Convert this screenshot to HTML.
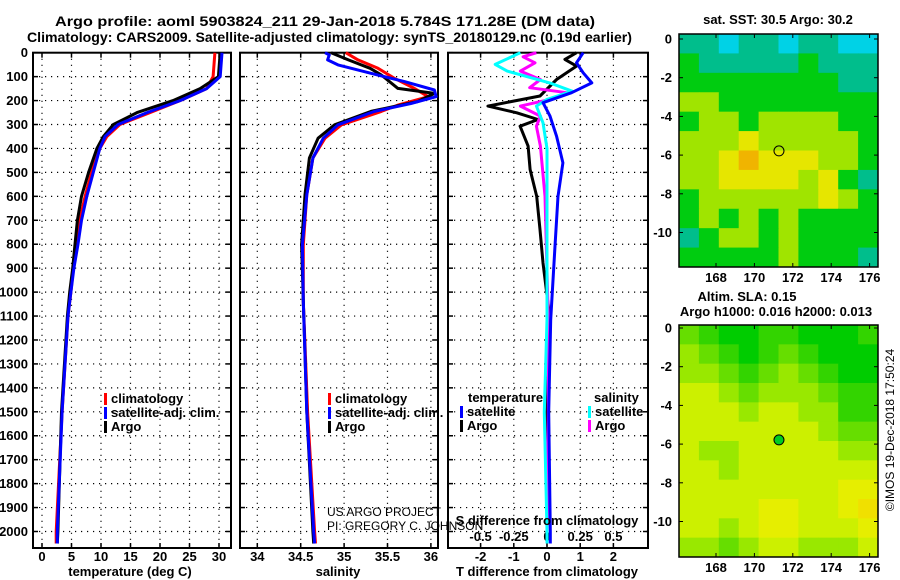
<!DOCTYPE html>
<html><head><meta charset="utf-8"><style>
body{margin:0;background:#fff;}
svg{display:block;font-family:"Liberation Sans",Arial,sans-serif;font-weight:bold;}
</style></head><body>
<svg id="fig" width="900" height="580" viewBox="0 0 900 580" xmlns="http://www.w3.org/2000/svg">
<rect width="900" height="580" fill="#fff"/>
<text x="55" y="26" font-size="14" textLength="540" lengthAdjust="spacingAndGlyphs">Argo profile: aoml 5903824_211 29-Jan-2018 5.784S 171.28E (DM data)</text>
<text x="27" y="42" font-size="14" textLength="605" lengthAdjust="spacingAndGlyphs">Climatology: CARS2009. Satellite-adjusted climatology: synTS_20180129.nc (0.19d earlier)</text>
<g id="g"></g>
</svg>
<script>
// ---------- data ----------
const depthTicks = [0,100,200,300,400,500,600,700,800,900,1000,1100,1200,1300,1400,1500,1600,1700,1800,1900,2000];
const tDepth = [0,100,150,200,250,300,350,400,500,600,700,800,900,1000,1100,1500,2000,2050];
const tempArgo = [30.2,29.9,26.8,22.2,16.1,12.1,10.4,9.3,7.9,6.7,6.0,5.6,5.2,4.7,4.3,3.3,2.7,2.6];
const tempClim = [29.3,29.0,27.9,23.4,18.3,13.2,11.0,9.8,8.4,7.3,6.4,5.9,5.3,4.9,4.4,3.4,2.4,2.4];
const tempSat  = [30.5,30.2,27.9,23.4,17.8,12.9,10.7,9.8,8.7,7.6,6.7,6.1,5.4,4.9,4.4,3.4,2.6,2.6];
const sDepthA = [0,30,65,93,149,170,204,245,301,357,440,593,802,1038,1500,2000,2050];
const salArgo = [34.85,35.05,35.3,35.43,35.62,36.04,35.85,35.31,34.89,34.70,34.60,34.55,34.51,34.53,34.57,34.64,34.65];
const sDepthC = [0,30,65,107,149,184,219,245,301,357,440,593,802,1038,1500,2000,2050];
const salClim = [35.02,35.16,35.39,35.58,35.81,35.97,35.62,35.43,34.97,34.78,34.64,34.57,34.53,34.53,34.58,34.66,34.67];
const sDepthS = [0,9,30,51,86,121,156,184,212,245,301,357,440,593,802,1038,1500,2000,2050];
const salSat  = [34.78,34.83,34.81,34.93,35.31,35.70,36.04,36.06,35.77,35.35,34.93,34.76,34.64,34.57,34.52,34.53,34.57,34.65,34.66];
const dDepthT = [0,28,56,112,181,223,251,279,307,390,488,600,739,878,1115,1500,2000,2050];
const dTArgo  = [0.89,0.54,0.89,0.29,-0.21,-1.78,-0.91,-0.27,-0.81,-0.57,-0.51,-0.31,-0.21,-0.12,0.09,0.0,0.0,0.0];
const dDepthTS = [0,42,84,126,167,209,265,349,460,600,808,1115,1500,2000,2050];
const dTSat   = [1.09,0.89,1.09,1.35,0.74,-0.12,0.09,0.29,0.48,0.33,0.24,0.11,0.05,0.1,0.1];
const dDepthS = [0,49,77,126,161,195,223,293,400,600,900,1115,1500,2000,2050];
const dSSat   = [-0.2,-0.39,-0.30,0.02,0.19,0,-0.08,-0.03,0,0,0,0,-0.02,0,0];
const dDepthSA = [0,17,42,77,112,146,167,195,223,265,307,390,600,1115,1500,2000,2050];
const dSArgo  = [-0.08,-0.18,-0.09,-0.2,-0.05,-0.13,0.15,0.02,-0.2,-0.05,-0.08,-0.05,-0.015,0.01,0.01,0,0];
const tTicks = [0,5,10,15,20,25,30];
const sTicks = [34,34.5,35,35.5,36];
const sTickLabels = ["34","34.5","35","35.5","36"];
const dTTicks = [-2,-1,0,1,2];
const dSTicks = [-0.5,-0.25,0,0.25,0.5];
const dSTickLabels = ["-0.5","-0.25","0","0.25","0.5"];
const lonTicks = [168,170,172,174,176];
const latTicks = [0,-2,-4,-6,-8,-10];
const sstGrid = [
[1,1,0,1,1,0,1,1,0,0],[2,1,1,1,1,1,2,1,1,1],[2,2,2,2,2,2,2,2,1,1],[3,3,2,2,2,2,2,2,2,2],
[2,3,3,2,3,3,3,3,2,2],[3,3,3,4,3,3,3,3,3,2],[3,3,4,5,4,4,4,3,3,2],[3,3,4,4,4,4,3,4,2,1],
[2,3,3,3,3,3,3,4,3,2],[2,3,2,3,2,3,2,2,2,2],[1,2,3,3,2,3,2,2,2,2],[2,2,2,2,2,3,2,2,2,1]];
const slaGrid = [
[2,1,0,0,1,1,0,0,0,1],[3,2,1,0,1,2,1,0,0,0],[3,3,2,1,2,3,2,1,0,0],[4,4,3,2,3,3,3,2,1,1],
[4,4,4,3,4,4,3,3,1,1],[4,4,4,4,4,4,4,3,2,2],[4,3,3,4,4,4,4,4,3,3],[4,4,3,4,4,4,4,4,4,4],
[4,4,4,4,4,4,4,4,5,5],[4,4,4,4,5,5,4,4,5,6],[4,4,3,4,5,5,4,4,4,5],[3,3,2,3,4,4,3,3,3,4]];
const argoLon = 171.28, argoLat = -5.784;

// ---------- helpers ----------
const NS="http://www.w3.org/2000/svg";
const G=document.getElementById('g');
const FS=13;
function el(tag,attrs,parent){const e=document.createElementNS(NS,tag);for(const k in attrs)e.setAttribute(k,attrs[k]);(parent||G).appendChild(e);return e;}
function txt(x,y,s,size,anchor,parent){const t=el('text',{x:x,y:y,'font-size':size,'text-anchor':anchor||'start'},parent);t.textContent=s;return t;}
const Y=d=>52.7+0.2394*d;
const PT=52.7, PB=548;
const X1=v=>42+5.9*v;
const X2=v=>257.3+86.8*(v-34);
const XT=v=>547+33.2*v;
const XS=v=>547+132.8*v;

function frame(x0,x1,name){
  const f=el('rect',{x:x0,y:PT,width:x1-x0,height:PB-PT,fill:'none',stroke:'#000','stroke-width':2});
  
  
  depthTicks.forEach(d=>{
    const gl=el('line',{x1:x0,x2:x1,y1:Y(d),y2:Y(d),stroke:'#000','stroke-width':1.2,'stroke-dasharray':'1.2 4.8'});
    
    
    el('line',{x1:x0,x2:x0+5,y1:Y(d),y2:Y(d),stroke:'#000','stroke-width':1.5});
    el('line',{x1:x1-5,x2:x1,y1:Y(d),y2:Y(d),stroke:'#000','stroke-width':1.5});
  });
}
function vgrid(xs,name){xs.forEach(x=>{
  const l=el('line',{x1:x,x2:x,y1:PT,y2:PB,stroke:'#000','stroke-width':1.2,'stroke-dasharray':'1.2 4.8'});
  
  
  el('line',{x1:x,x2:x,y1:PB-5,y2:PB,stroke:'#000','stroke-width':1.5});
  el('line',{x1:x,x2:x,y1:PT,y2:PT+5,stroke:'#000','stroke-width':1.5});
});}
function line(xs,ds,fx,color,w,name){
  const pts=xs.map((v,i)=>fx(v).toFixed(1)+','+Y(ds[i]).toFixed(1)).join(' ');
  const p=el('polyline',{points:pts,fill:'none',stroke:color,'stroke-width':w,'stroke-linejoin':'round'});
  
  
}
function legend(x,y,color,label,name){
  const b=el('rect',{x:x,y:y-10,width:3,height:12,fill:color});
  
  
  const t=txt(x+7,y,label,FS);
  
  
}

// depth labels
depthTicks.forEach(d=>{const t=txt(28,Y(d)+4.5,String(d),FS,'end');
  
  });

// ---- temperature panel ----
frame(33,231,'temperature-panel');
vgrid(tTicks.map(X1),'temperature');
tTicks.forEach(v=>{const t=txt(X1(v),561,String(v),FS,'middle');
  
  });
line(tempClim,tDepth,X1,'#f00',3,'temperature-climatology-line');
line(tempArgo,tDepth,X1,'#000',3,'temperature-argo-line');
line(tempSat,tDepth,X1,'#00f',3,'temperature-satellite-line');
legend(104,403,'#f00','climatology','temp-legend-climatology');
legend(104,417,'#00f','satellite-adj. clim.','temp-legend-satellite');
legend(104,431,'#000','Argo','temp-legend-argo');
{const t=txt(130,576,'temperature (deg C)',FS,'middle');}

// ---- salinity panel ----
frame(240,438,'salinity-panel');
vgrid(sTicks.map(X2),'salinity');
sTicks.forEach((v,i)=>{const t=txt(X2(v),561,sTickLabels[i],FS,'middle');
  
  });
line(salClim,sDepthC,X2,'#f00',3,'salinity-climatology-line');
line(salArgo,sDepthA,X2,'#000',3,'salinity-argo-line');
line(salSat,sDepthS,X2,'#00f',3,'salinity-satellite-line');
legend(328,403,'#f00','climatology','sal-legend-climatology');
legend(328,417,'#00f','satellite-adj. clim.','sal-legend-satellite');
legend(328,431,'#000','Argo','sal-legend-argo');
{const t=txt(338,576,'salinity',FS,'middle');}

// ---- difference panel ----
frame(448,648,'difference-panel');
vgrid(dTTicks.map(XT),'t-difference');
dTTicks.forEach(v=>{const t=txt(XT(v),561,String(v),FS,'middle');
  
  });
dSTicks.forEach((v,i)=>{const t=txt(XS(v),541,dSTickLabels[i],FS,'middle');
  
  });
line(dTArgo,dDepthT,XT,'#000',3,'t-diff-argo-line');
line(dSArgo,dDepthSA,XS,'#f0f',3,'s-diff-argo-line');
line(dSSat,dDepthS,XS,'#0ff',3,'s-diff-satellite-line');
line(dTSat,dDepthTS,XT,'#00f',3,'t-diff-satellite-line');
{const t=txt(468,402,'temperature',FS);}
{const t=txt(594,402,'salinity',FS);}
legend(460,416,'#00f','satellite','diff-legend-t-satellite');
legend(460,430,'#000','Argo','diff-legend-t-argo');
legend(588,416,'#0ff','satellite','diff-legend-s-satellite');
legend(588,430,'#f0f','Argo','diff-legend-s-argo');
{const t=txt(547,525,'S difference from climatology',FS,'middle');}
{const t=txt(547,576,'T difference from climatology',FS,'middle');}
{const t=txt(327,516,'US ARGO PROJECT',12);t.setAttribute('font-weight','normal');}
{const t=txt(327,530,'PI: GREGORY C. JOHNSON',12);t.setAttribute('font-weight','normal');}

// ---- maps ----
const sstColors=['#00d2e6','#00be8c','#00cc10','#a0e400','#e6e600','#f0b400'];
const slaColors=['#00cc00','#33d400','#66de00','#99e800','#ccf000','#e6ee00','#f0e000'];
function drawMap(y0,y1,lat0y,grid,colors,name){
  const x0=679,x1=878;
  const LX=v=>716+19.2*(v-168);
  const LY=v=>lat0y-19.35*v;
  const rows=grid.length, cols=grid[0].length;
  const cw=(x1-x0)/cols, ch=(y1-y0)/rows;
  grid.forEach((r,i)=>r.forEach((v,j)=>{
    const c=el('rect',{x:x0+j*cw,y:y0+i*ch,width:cw+0.5,height:ch+0.5,fill:colors[v]});
    
    
  }));
  const f=el('rect',{x:x0,y:y0,width:x1-x0,height:y1-y0,fill:'none',stroke:'#000','stroke-width':1.5});
  
  
  lonTicks.forEach(v=>{el('line',{x1:LX(v),x2:LX(v),y1:y1,y2:y1-4,stroke:'#000'});el('line',{x1:LX(v),x2:LX(v),y1:y0,y2:y0+4,stroke:'#000'});
    const t=txt(LX(v),y1+15,String(v),FS,'middle');});
  latTicks.forEach(v=>{el('line',{x1:x0,x2:x0+4,y1:LY(v),y2:LY(v),stroke:'#000'});el('line',{x1:x1,x2:x1-4,y1:LY(v),y2:LY(v),stroke:'#000'});
    const t=txt(672,LY(v)+4.5,String(v),FS,'end');});
  const m=el('circle',{cx:LX(argoLon),cy:LY(argoLat),r:5,fill:name==='sla-map'?'#00cc22':'none',stroke:'#000','stroke-width':1});
  
  
}
drawMap(34,267,39,sstGrid,sstColors,'sst-map');
drawMap(325,557,328,slaGrid,slaColors,'sla-map');
{const t=txt(778,24,'sat. SST: 30.5 Argo: 30.2',FS,'middle');}
{const t=txt(747,301,'Altim. SLA: 0.15',FS,'middle');}
{const t=txt(776,316,'Argo h1000: 0.016 h2000: 0.013',FS,'middle');}
{const t=txt(0,0,'©IMOS 19-Dec-2018 17:50:24',12,'middle');t.setAttribute('font-weight','normal');t.setAttribute('transform','translate(894,430) rotate(-90)');}
</script>
</body></html>
